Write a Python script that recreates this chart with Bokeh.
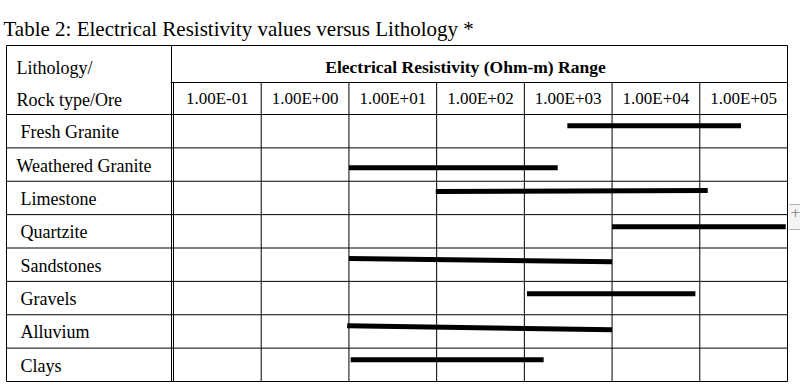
from bokeh.plotting import figure
from bokeh.models import Range1d, ColumnDataSource
from bokeh.core.properties import value
from bokeh.embed import file_html
from bokeh.resources import INLINE

# ---------------- data ----------------
TITLE = "Table 2: Electrical Resistivity values versus Lithology *"
HEADER = "Electrical Resistivity (Ohm-m) Range"
ROW_HEADER = ["Lithology/", "Rock type/Ore"]
LITHOLOGY = ["Fresh Granite", "Weathered Granite", "Limestone", "Quartzite",
             "Sandstones", "Gravels", "Alluvium", "Clays"]
TICK_EXP = [-1, 0, 1, 2, 3, 4, 5]
TICK_LABELS = ["1.00E-01", "1.00E+00", "1.00E+01", "1.00E+02",
               "1.00E+03", "1.00E+04", "1.00E+05"]
# resistivity range, log10(Ohm-m), each column cell spans [exp, exp+1]
RANGE_LOW_LOG = [3.49, 1.00, 1.99, 4.00, 1.00, 3.03, 0.98, 1.02]
RANGE_HIGH_LOG = [5.47, 3.38, 5.09, 5.98, 4.00, 4.95, 4.00, 3.22]

# ---------------- layout (picture pixels) ----------------
W, H = 800, 385
ORIGIN = 0
COL_L, COL_R = 173, 787
ROW_T, ROW_B = 114, 381
TABLE_TOP, SUB_TOP, LEFT_EDGE, LABEL_EDGE = 45, 82, 6, 171
PXU = (COL_R - COL_L) / len(TICK_EXP)
PYU = (ROW_B - ROW_T) / len(LITHOLOGY)
LABEL_X_PX = [20, 16, 20, 20, 20, 20, 20, 20]
BAR_NUDGE0_PX = [-5.4, 3.2, -6.4, -4.5, -6.2, -4.3, -5.6, -5.0]
BAR_NUDGE1_PX = [-5.4, 3.2, -7.4, -4.5, -2.9, -4.3, -1.6, -5.0]
SERIF = value("Liberation Serif")


def fx(px):
    return TICK_EXP[0] + (px - COL_L) / PXU


def fy(py):
    return (py - ROW_T) / PYU


p = figure(width=W, height=H, output_backend="svg", toolbar_location=None,
           x_range=Range1d(fx(ORIGIN), fx(ORIGIN + W)),
           y_range=Range1d(fy(ORIGIN + H), fy(ORIGIN)),
           min_border=0)
p.axis.visible = False
p.grid.visible = False
p.outline_line_color = None
p.background_fill_color = "white"
p.border_fill_color = "white"

n = len(LITHOLOGY)
x_last = TICK_EXP[-1] + 1

# ---------------- grid ----------------
gx0, gy0, gx1, gy1 = [], [], [], []
for (xa, ya) in [(fx(LEFT_EDGE), fy(TABLE_TOP)), (fx(LABEL_EDGE), fy(SUB_TOP))]:
    gx0.append(xa); gy0.append(ya); gx1.append(x_last); gy1.append(ya)
for i in range(n + 1):
    gx0.append(fx(LEFT_EDGE)); gy0.append(i); gx1.append(x_last); gy1.append(i)
for xa in [fx(LEFT_EDGE), fx(LABEL_EDGE), x_last]:
    gx0.append(xa); gy0.append(fy(TABLE_TOP)); gx1.append(xa); gy1.append(n)
for e in TICK_EXP:
    gx0.append(e); gy0.append(fy(SUB_TOP)); gx1.append(e); gy1.append(n)
p.segment(gx0, gy0, gx1, gy1, line_color="black", line_width=1)

# ---------------- bars ----------------
src = ColumnDataSource(dict(
    x0=RANGE_LOW_LOG, x1=RANGE_HIGH_LOG,
    y0=[i + 0.5 + BAR_NUDGE0_PX[i] / PYU for i in range(n)],
    y1=[i + 0.5 + BAR_NUDGE1_PX[i] / PYU for i in range(n)],
))
p.segment("x0", "y0", "x1", "y1", source=src, line_color="black",
          line_width=5, line_cap="butt")

# ---------------- texts ----------------
p.text(x=[fx(3)], y=[fy(28.3)], text=[TITLE], text_font=SERIF,
       text_font_size="21px", text_baseline="alphabetic", text_align="left",
       text_color="black")
p.text(x=[fx(16), fx(16)], y=[fy(67), fy(99)], text=ROW_HEADER, text_font=SERIF,
       text_font_size="18px", text_baseline="alphabetic", text_align="left",
       text_color="black")
p.text(x=[fx(465)], y=[fy(66)], text=[HEADER], text_font=SERIF,
       text_font_size="17.5px", text_font_style="bold",
       text_baseline="alphabetic", text_align="center", text_color="black")
p.text(x=[e + 0.5 for e in TICK_EXP], y=[fy(98.3)] * len(TICK_EXP),
       text=TICK_LABELS, text_font=SERIF, text_font_size="17px",
       text_baseline="alphabetic", text_align="center", text_color="black")
p.text(x=[fx(v) for v in LABEL_X_PX], y=[i + 0.53 for i in range(n)],
       text=LITHOLOGY, text_font=SERIF, text_font_size="18px",
       text_baseline="alphabetic", text_align="left", text_color="black")

# ---------------- editor handle at right ----------------
p.quad(left=[fx(789)], right=[fx(800)], top=[fy(204)], bottom=[fy(229)],
       fill_color="#f4f4f4", line_color=None)
p.segment([fx(789), fx(789)], [fy(204), fy(229)], [fx(800), fx(800)],
          [fy(204), fy(229)], line_color="#b0b0b0", line_width=1)
p.text(x=[fx(795)], y=[fy(212)], text=["+"], text_font=value("DejaVu Sans"),
       text_font_size="13px", text_baseline="middle", text_align="center",
       text_color="#909090")

open("out.html", "w").write(file_html(p, INLINE))
